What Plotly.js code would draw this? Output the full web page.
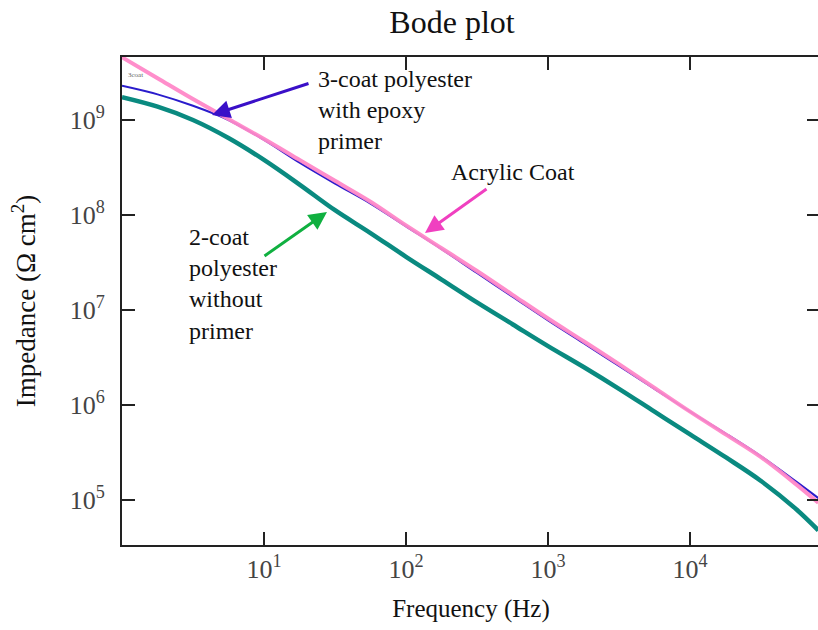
<!DOCTYPE html>
<html>
<head>
<meta charset="utf-8">
<script src="https://cdn.plot.ly/plotly-3.0.1.min.js"></script>
<style>
html,body{margin:0;padding:0;overflow:hidden;background:#fff;}
#chart{width:822px;height:630px;}
</style>
</head>
<body>
<div id="chart"></div>
<script>
// Frequency grid (Hz)
const frequency = [1, 1.78, 3.16, 5.62, 10, 17.8, 31.6, 56.2, 100, 178, 316, 562, 1000, 1780, 3160, 5620, 10000, 17800, 31600, 56200, 80000];
// Impedance (Ohm cm^2)
const acrylicCoat = [4.57e9, 2.75e9, 1.66e9, 1.023e9, 6.31e8, 3.80e8, 2.29e8, 1.38e8, 7.76e7, 4.47e7, 2.57e7, 1.445e7, 8.13e6, 4.68e6, 2.69e6, 1.514e6, 8.51e5, 4.90e5, 2.82e5, 1.45e5, 9.33e4];
const threeCoatEpoxy = [2.29e9, 1.86e9, 1.41e9, 1.0e9, 6.17e8, 3.55e8, 2.14e8, 1.318e8, 7.59e7, 4.37e7, 2.45e7, 1.38e7, 7.76e6, 4.47e6, 2.57e6, 1.479e6, 8.51e5, 5.01e5, 2.88e5, 1.55e5, 1.047e5];
const twoCoatNoPrimer = [1.738e9, 1.38e9, 1.0e9, 6.46e8, 3.80e8, 2.09e8, 1.122e8, 6.46e7, 3.63e7, 2.09e7, 1.202e7, 7.08e6, 4.17e6, 2.51e6, 1.479e6, 8.51e5, 4.90e5, 2.82e5, 1.585e5, 7.94e4, 4.79e4];

const xTickVals = [10, 100, 1000, 10000];
const xTickText = ["10<sup>1</sup>", "10<sup>2</sup>", "10<sup>3</sup>", "10<sup>4</sup>"];
const yTickVals = [1e5, 1e6, 1e7, 1e8, 1e9];
const yTickText = ["10<sup>5</sup>", "10<sup>6</sup>", "10<sup>7</sup>", "10<sup>8</sup>", "10<sup>9</sup>"];

const serif = "Liberation Serif, Times New Roman, serif";

const traces = [
  {x: frequency, y: twoCoatNoPrimer, mode: "lines", line: {color: "#0a8a80", width: 4.5, shape: "spline", smoothing: 1}, name: "2-coat"},
  {x: frequency, y: threeCoatEpoxy, mode: "lines", line: {color: "#2a1ccc", width: 2, shape: "spline", smoothing: 1}, name: "3-coat"},
  {x: frequency, y: acrylicCoat, mode: "lines", line: {color: "#ff88c8", width: 4, shape: "spline", smoothing: 1}, opacity: 0.95, name: "Acrylic"}
];

// pixel -> paper helpers (plot area 122..820 x 57..545)
const L = 122, R = 820, T = 57, B = 545;
function px(x) { return (x - L) / (R - L); }
function py(y) { return (B - y) / (B - T); }

function arrow(hx, hy, tx, ty, color) {
  return {xref: "paper", yref: "paper", x: px(hx), y: py(hy), axref: "pixel", ayref: "pixel",
    ax: tx - hx, ay: ty - hy, text: "", showarrow: true, arrowhead: 2, arrowsize: 1.2,
    arrowwidth: 3, arrowcolor: color, standoff: 0, startstandoff: 0};
}
function label(x, y, text) {
  return {xref: "paper", yref: "paper", x: px(x), y: py(y), xanchor: "left", yanchor: "top",
    align: "left", text: text, showarrow: false, font: {family: serif, size: 24, color: "#111"}};
}

const layout = {
  width: 822, height: 630,
  margin: {l: L, r: 822 - R, t: T, b: 630 - B},
  paper_bgcolor: "#fff", plot_bgcolor: "#fff",
  showlegend: false,
  title: {text: "Bode plot", font: {family: serif, size: 32, color: "#111"},
    x: 452 / 822, xref: "container", xanchor: "center", y: 1 - 22 / 630, yref: "container", yanchor: "middle"},
  xaxis: {type: "log", range: [0, 4.915], showgrid: false, zeroline: false,
    showline: true, linewidth: 2, linecolor: "#222", mirror: "ticks",
    ticks: "inside", ticklen: 13, tickwidth: 2, tickcolor: "#222",
    tickvals: xTickVals, ticktext: xTickText, ticklabelstandoff: 0,
    tickfont: {family: serif, size: 26, color: "#444"},
    title: {text: "Frequency (Hz)", font: {family: serif, size: 25, color: "#111"}, standoff: 16}},
  yaxis: {type: "log", range: [4.526, 9.663], showgrid: false, zeroline: false,
    showline: true, linewidth: 2, linecolor: "#222", mirror: "ticks",
    ticks: "inside", ticklen: 13, tickwidth: 2, tickcolor: "#222",
    tickvals: yTickVals, ticktext: yTickText, ticklabelstandoff: 10,
    tickfont: {family: serif, size: 26, color: "#444"},
    title: {text: "Impedance (Ω cm<sup>2</sup>)", font: {family: serif, size: 27, color: "#111"}, standoff: 26}},
  annotations: [
    arrow(212, 115, 310, 83, "#3a10c8"),
    label(316, 64, "3-coat polyester<br>with epoxy<br>primer"),
    arrow(425, 233, 488, 188, "#f040c0"),
    label(449, 157, "Acrylic Coat"),
    arrow(327, 212, 263, 257, "#10b040"),
    label(187, 222, "2-coat<br>polyester<br>without<br>primer"),
    {xref: "paper", yref: "paper", x: px(126), y: py(75), xanchor: "left", yanchor: "middle",
      text: "3coat", showarrow: false, font: {family: serif, size: 7, color: "#666"}}
  ]
};

Plotly.newPlot("chart", traces, layout, {displayModeBar: false, staticPlot: true});
</script>
</body>
</html>
